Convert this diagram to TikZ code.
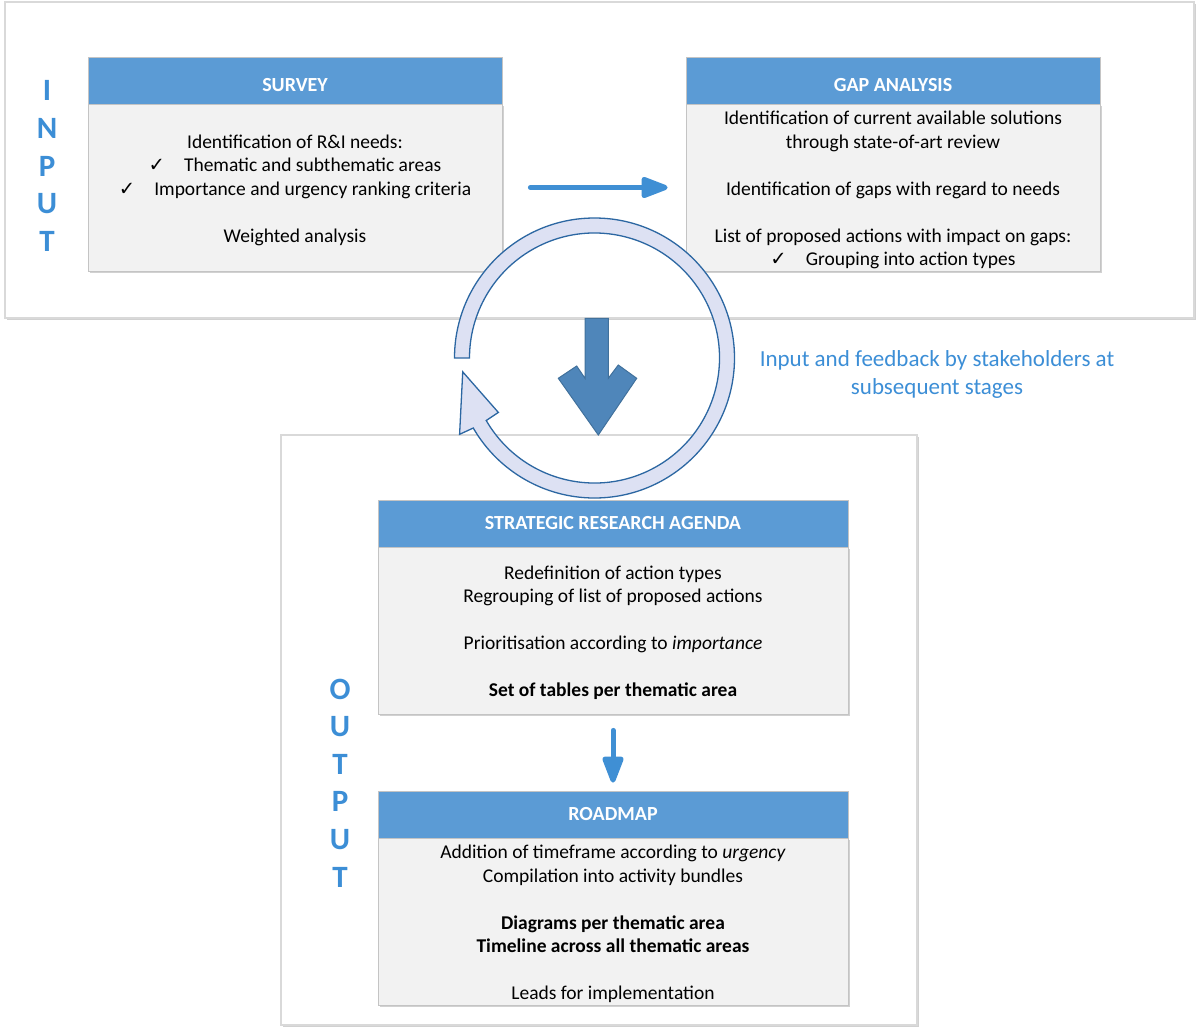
\documentclass[tikz,border=0pt]{standalone}
\usepackage{fontspec}
\setmainfont{Carlito}
\newfontfamily\symf{DejaVu Sans}
\usetikzlibrary{arrows.meta,shadows,calc}
\definecolor{headblue}{HTML}{5B9BD5}
\definecolor{bodyfill}{HTML}{F2F2F2}
\definecolor{bodydraw}{HTML}{C4C4C4}
\definecolor{framegray}{HTML}{D9D9D9}
\definecolor{txtblue}{HTML}{3C8ED6}
\definecolor{arrblue}{HTML}{3F8FD4}
\definecolor{bigfill}{HTML}{4F86BA}
\definecolor{bigdraw}{HTML}{41719C}
\definecolor{ringfill}{HTML}{DDE1F3}
\definecolor{ringdraw}{HTML}{2C67A2}
\newcommand\ck{{\symf\char"2713}}
\newcommand\lowered[1]{\raisebox{-3pt}[\height][\depth]{\begin{tabular}{@{}c@{}}#1\end{tabular}}}
\begin{document}
\begin{tikzpicture}[x=1pt,y=1pt,
  frame/.style={draw=framegray,line width=1.3pt,fill=white,minimum width=#1,inner sep=0pt},
  frame/.default=10pt,
  shad/.style={drop shadow={shadow xshift=1.5pt,shadow yshift=-2pt,opacity=0.18,fill=black}},
  hdr/.style={fill=headblue,draw=bodydraw,line width=0.8pt,text=white,
    font=\fontsize{20}{24}\bfseries\selectfont,minimum height=47pt,inner sep=0pt,
    text height=12.9pt,text depth=0pt,minimum width=#1},
  hdrlow/.style={hdr=#1,text height=22.9pt},
  body/.style={fill=bodyfill,draw=bodydraw,line width=0.8pt,align=center,
    font=\fontsize{19.5}{23.5}\selectfont,minimum height=167pt,inner sep=0pt,minimum width=#1},
  letters/.style={text=txtblue,align=center,font=\fontsize{31}{37.6}\bfseries\selectfont},
  conn/.style={draw=arrblue,line width=5pt,line cap=round,
    -{Triangle[length=31pt,width=22pt,round=false]}},
  ringst/.style={fill=ringfill,draw=ringdraw,line width=1.3pt,line join=miter},
  bigarrow/.style={fill=bigfill,draw=bigdraw,line width=1pt}
]
\useasboundingbox (0,0) rectangle (1200,-1034);

% frames
\node[frame=1189pt,minimum height=316pt,shad] (inframe) at (599.5,-160) {};
\node[frame=636pt,minimum height=590pt,shad] (outframe) at (599,-730) {};

% INPUT / OUTPUT labels
\node[letters] (inlab) at (47,-166) {I\\N\\P\\U\\T};
\node[letters] (outlab) at (340,-783) {O\\U\\T\\P\\U\\T};

% survey
\node[body=414pt,shad] (surveyB) at (295,-187.5) {\lowered{Identification of R\&I needs:\\
  \ck\hspace{19pt}Thematic and subthematic areas\\
  \ck\hspace{19pt}Importance and urgency ranking criteria\\[23.5pt]
  Weighted analysis}};
\node[hdrlow=414pt] (surveyH) at (295,-80.5) {SURVEY};

% gap analysis
\node[body=414pt,shad] (gapB) at (893,-187.5) {\lowered{Identification of current available solutions\\
  through state-of-art review\\[23.5pt]
  Identification of gaps with regard to needs\\[23.5pt]
  List of proposed actions with impact on gaps:\\
  \ck\hspace{19pt}Grouping into action types}};
\node[hdrlow=414pt] (gapH) at (893,-80.5) {GAP ANALYSIS};

% strategic research agenda
\node[body=470pt,shad] (sraB) at (613,-630.5) {\lowered{Redefinition of action types\\
  Regrouping of list of proposed actions\\[23.5pt]
  Prioritisation according to \textit{importance}\\[23.5pt]
  \textbf{Set of tables per thematic area}}};
\node[hdr=470pt] (sraH) at (613,-523.5) {STRATEGIC RESEARCH AGENDA};

% roadmap
\node[body=470pt,shad] (roadB) at (613,-921.5) {\lowered{Addition of timeframe according to \textit{urgency}\\
  Compilation into activity bundles\\[23.5pt]
  \textbf{Diagrams per thematic area}\\
  \textbf{Timeline across all thematic areas}\\[23.5pt]
  Leads for implementation}};
\node[hdr=470pt] (roadH) at (613,-814.5) {ROADMAP};

% connectors
\draw[conn] ([xshift=28pt]surveyB.east) -- ([xshift=-18pt]gapB.west);
\draw[conn] ([yshift=-16pt]sraB.south) -- ([yshift=8pt]roadH.north);

% big down arrow
\draw[bigarrow] (585,-318.3) -- (585,-378.3) -- (576.7,-366) -- (558.3,-378.3)
  -- (598.3,-435) -- (636.7,-378.3) -- (618.3,-365) -- (608.3,-378.3)
  -- (608.3,-318.3) -- cycle;

% circular arrow
\coordinate (C) at (594.5,-358);
\draw[ringst] ($(C)+(180:140)$) arc[start angle=180,end angle=-150,radius=140]
  -- ($(C)+(-150.5:155)$) -- ($(C)+(-174:132.5)$) -- ($(C)+(-150.5:110.5)$)
  -- ($(C)+(-150:125)$) arc[start angle=-150,end angle=180,radius=125] -- cycle;

% feedback text
\node[text=txtblue,align=center,font=\fontsize{23}{28}\selectfont] (fb) at (937,-374)
  {Input and feedback by stakeholders at\\subsequent stages};
\end{tikzpicture}
\end{document}
